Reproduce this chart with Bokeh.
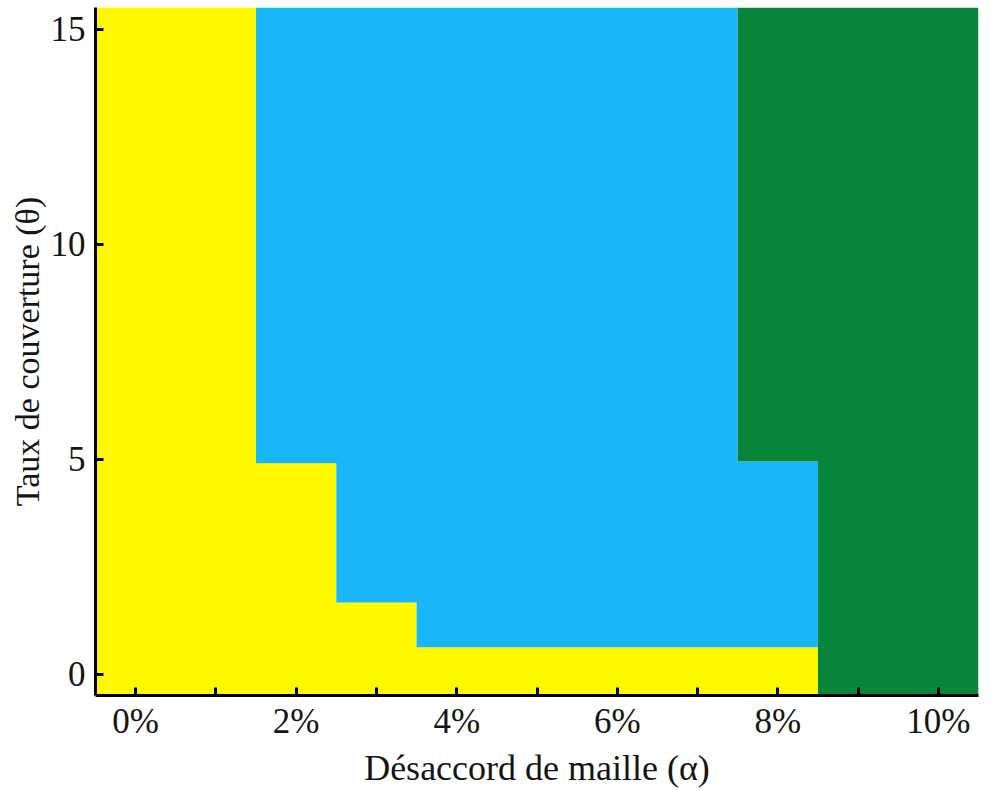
from bokeh.plotting import figure
from bokeh.models import FixedTicker
from bokeh.embed import file_html
from bokeh.resources import INLINE

# Lattice misfit columns (%), each cell 1 % wide
misfit = [0, 1, 2, 3, 4, 5, 6, 7, 8, 9, 10]
# Upper coverage bound of the yellow phase in each column
yellow_top = [15.5, 15.5, 4.9, 1.66, 0.62, 0.62, 0.62, 0.62, 0.62, -0.5, -0.5]
# Lower coverage bound of the green phase in each column
green_bottom = [15.5, 15.5, 15.5, 15.5, 15.5, 15.5, 15.5, 15.5, 4.94, -0.5, -0.5]

x_ticks = [0, 2, 4, 6, 8, 10]
x_minor = [1, 3, 5, 7, 9]
x_tick_labels = ["0%", "2%", "4%", "6%", "8%", "10%"]
y_ticks = [0, 5, 10, 15]

Y_MIN, Y_MAX = -0.5, 15.5
YELLOW, BLUE, GREEN = "#FFF900", "#1AB6FA", "#08853A"
FONT = "Liberation Serif"


def step_edges(values):
    """Turn per-column values into a staircase (x, y) outline."""
    xs, ys = [], []
    for m, v in zip(misfit, values):
        xs += [m - 0.5, m + 0.5]
        ys += [v, v]
    return xs, ys


p = figure(width=991, height=790, x_range=(-0.5, 10.5), y_range=(Y_MIN, Y_MAX),
           output_backend="svg", toolbar_location=None,
           min_border_left=95, min_border_right=13, min_border_top=7, min_border_bottom=90)

sx, s_yellow = step_edges(yellow_top)
_, s_green = step_edges(green_bottom)
s_bottom = [Y_MIN] * len(sx)
s_top = [Y_MAX] * len(sx)

# one continuous area per phase, so no seams between columns
p.varea(x=sx, y1=s_bottom, y2=s_yellow, fill_color=YELLOW)
p.varea(x=sx, y1=s_yellow, y2=s_green, fill_color=BLUE)
p.varea(x=sx, y1=s_green, y2=s_top, fill_color=GREEN)

p.grid.visible = False
p.outline_line_color = None

p.xaxis.ticker = FixedTicker(ticks=x_ticks, minor_ticks=x_minor)
p.xaxis.major_label_overrides = {t: lab for t, lab in zip(x_ticks, x_tick_labels)}
p.yaxis.ticker = FixedTicker(ticks=y_ticks, minor_ticks=[])

p.xaxis.axis_label = "Désaccord de maille (α)"
p.yaxis.axis_label = "Taux de couverture (θ)"

for ax in (p.xaxis, p.yaxis):
    ax.axis_line_width = 3
    ax.axis_line_color = "black"
    ax.major_tick_in = 8
    ax.major_tick_out = 0
    ax.minor_tick_in = 8
    ax.minor_tick_out = 0
    ax.major_tick_line_width = 3
    ax.minor_tick_line_width = 3
    ax.major_label_text_font = FONT
    ax.major_label_text_font_size = "35px"
    ax.major_label_text_color = "#151515"
    ax.axis_label_text_font = FONT
    ax.axis_label_text_font_style = "normal"
    ax.axis_label_text_color = "#151515"

p.xaxis.axis_label_text_font_size = "36px"
p.yaxis.axis_label_text_font_size = "34px"
p.xaxis.major_label_standoff = 6
p.xaxis.axis_label_standoff = 4
p.yaxis.major_label_standoff = 10
p.yaxis.axis_label_standoff = 2

open("out.html", "w").write(file_html(p, INLINE))
